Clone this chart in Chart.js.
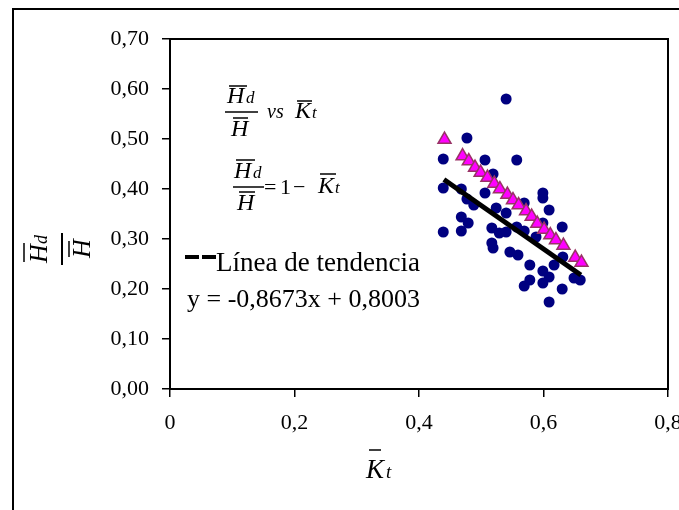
<!DOCTYPE html>
<html>
<head>
<meta charset="utf-8">
<script src="https://cdn.jsdelivr.net/npm/chart.js@4.4.1/dist/chart.umd.min.js"></script>
<style>
  body { margin: 0; background: #fff; }
  canvas { display: block; }
</style>
</head>
<body>
<canvas id="kt" width="679" height="510"></canvas>
<script>
// measured points (Kt, Hd/H)
const obsKt = [0.540, 0.477, 0.439, 0.506, 0.557, 0.519, 0.439, 0.468, 0.506, 0.599,
  0.599, 0.477, 0.488, 0.569, 0.524, 0.540, 0.609, 0.468, 0.479, 0.468,
  0.439, 0.517, 0.529, 0.540, 0.599, 0.630, 0.557, 0.569, 0.588, 0.517,
  0.519, 0.546, 0.559, 0.578, 0.617, 0.631, 0.599, 0.609, 0.578, 0.569,
  0.599, 0.649, 0.659, 0.630, 0.609];
const obsHd = [0.580, 0.502, 0.460, 0.458, 0.458, 0.430, 0.402, 0.400, 0.392, 0.392,
  0.382, 0.380, 0.368, 0.372, 0.362, 0.352, 0.358, 0.344, 0.332, 0.316,
  0.314, 0.322, 0.312, 0.314, 0.332, 0.324, 0.324, 0.316, 0.304, 0.292,
  0.282, 0.274, 0.268, 0.248, 0.248, 0.264, 0.236, 0.224, 0.218, 0.206,
  0.212, 0.222, 0.218, 0.200, 0.174];

// model values (triangles)
const modelKt = [0.441, 0.470, 0.480, 0.490, 0.499, 0.510, 0.521, 0.530, 0.542, 0.551,
  0.560, 0.572, 0.581, 0.590, 0.601, 0.611, 0.620, 0.632, 0.651, 0.661];
const modelHd = [0.499, 0.466, 0.456, 0.443, 0.433, 0.423, 0.411, 0.400, 0.389, 0.378,
  0.368, 0.356, 0.345, 0.331, 0.319, 0.308, 0.298, 0.287, 0.263, 0.253];

// trend line ends
const trendKt = [0.44, 0.66];
const trendHd = [0.419, 0.228];

const xTicks = [0, 0.2, 0.4, 0.6, 0.8];
const yTicks = [0, 0.1, 0.2, 0.3, 0.4, 0.5, 0.6, 0.7];

const legendText = "Línea de tendencia";
const eqText = "y = -0,8673x + 0,8003";

const SERIF = '"Liberation Serif", "Times New Roman", serif';

function pts(xs, ys) {
  return xs.map((x, i) => ({ x: x, y: ys[i] }));
}

function hline(ctx, x1, x2, y, w) {
  ctx.beginPath();
  ctx.lineWidth = w || 1.5;
  ctx.moveTo(x1, y);
  ctx.lineTo(x2, y);
  ctx.stroke();
}

const decor = {
  id: "decor",
  afterDraw(chart) {
    const ctx = chart.ctx;
    const a = chart.chartArea;
    ctx.save();
    ctx.strokeStyle = "#000";
    ctx.fillStyle = "#000";

    // outer frame
    ctx.lineWidth = 2;
    ctx.strokeRect(13, 9, 700, 600);
    // plot frame
    ctx.strokeRect(a.left, a.top, a.right - a.left, a.bottom - a.top);

    ctx.textBaseline = "alphabetic";
    ctx.textAlign = "left";

    // Hd/H vs Kt
    ctx.font = "italic 24px " + SERIF;
    ctx.fillText("H", 227, 103);
    ctx.fillText("H", 231, 136);
    ctx.fillText("K", 295, 118);
    ctx.font = "italic 17px " + SERIF;
    ctx.fillText("d", 246, 103);
    ctx.fillText("t", 312, 118);
    ctx.font = "italic 20px " + SERIF;
    ctx.fillText("vs", 267, 118);
    hline(ctx, 229, 247, 86);
    hline(ctx, 225, 258, 112);
    hline(ctx, 233, 248, 118);
    hline(ctx, 297, 312, 101);

    // Hd/H = 1 - Kt
    ctx.font = "italic 24px " + SERIF;
    ctx.fillText("H", 234, 178);
    ctx.fillText("H", 237, 210);
    ctx.fillText("K", 318, 193);
    ctx.font = "italic 17px " + SERIF;
    ctx.fillText("d", 253, 178);
    ctx.fillText("t", 335, 193);
    ctx.font = "22px " + SERIF;
    ctx.fillText("=", 264, 194);
    ctx.fillText("1", 280, 194);
    ctx.fillText("\u2212", 293, 194);
    hline(ctx, 236, 255, 160);
    hline(ctx, 233, 264, 187);
    hline(ctx, 239, 255, 192);
    hline(ctx, 320, 336, 174);

    // legend + equation
    ctx.fillRect(185, 255, 14, 4);
    ctx.fillRect(202, 255, 14, 4);
    ctx.font = "27px " + SERIF;
    ctx.fillText(legendText, 216, 271);
    ctx.font = "26px " + SERIF;
    ctx.fillText(eqText, 187, 307);

    // x title
    ctx.font = "italic 27px " + SERIF;
    ctx.fillText("K", 366, 478);
    ctx.font = "italic 19px " + SERIF;
    ctx.fillText("t", 386, 478);
    hline(ctx, 369, 381, 450);

    // y title, rotated: local x = -screenY, local y = screenX
    ctx.save();
    ctx.rotate(-Math.PI / 2);
    ctx.font = "italic 26px " + SERIF;
    ctx.fillText("H", -263, 47);
    ctx.fillText("H", -258, 90);
    ctx.font = "italic 18px " + SERIF;
    ctx.fillText("d", -244, 47);
    ctx.restore();
    ctx.lineWidth = 1.5;
    ctx.beginPath();
    ctx.moveTo(24, 262); ctx.lineTo(24, 243);
    ctx.moveTo(69, 257); ctx.lineTo(69, 241);
    ctx.stroke();
    ctx.lineWidth = 2;
    ctx.beginPath();
    ctx.moveTo(62, 233); ctx.lineTo(62, 265);
    ctx.stroke();

    ctx.restore();
  }
};

new Chart(document.getElementById("kt"), {
  type: "scatter",
  data: {
    datasets: [
      {
        label: "medidos",
        data: pts(obsKt, obsHd),
        pointStyle: "circle",
        pointRadius: 5.5,
        backgroundColor: "#000080",
        borderColor: "#000080",
        borderWidth: 0,
        order: 3
      },
      {
        label: legendText,
        type: "line",
        data: pts(trendKt, trendHd),
        borderColor: "#000",
        borderWidth: 5,
        pointRadius: 0,
        fill: false,
        order: 2
      },
      {
        label: "modelo",
        data: pts(modelKt, modelHd),
        pointStyle: "triangle",
        pointRadius: 7.5,
        backgroundColor: "#ff00ff",
        borderColor: "#993366",
        borderWidth: 1.5,
        order: 1
      }
    ]
  },
  options: {
    responsive: false,
    animation: false,
    events: [],
    layout: { padding: { top: 39, right: 11, left: 0, bottom: 0 } },
    plugins: {
      legend: { display: false },
      tooltip: { enabled: false }
    },
    scales: {
      x: {
        type: "linear",
        min: 0,
        max: 0.8,
        afterFit: s => { s.height = 121; s.paddingLeft = 0; s.paddingRight = 0; },
        afterBuildTicks: s => { s.ticks = xTicks.map(v => ({ value: v })); },
        ticks: {
          color: "#000",
          font: { family: SERIF, size: 22 },
          padding: 13,
          maxRotation: 0,
          callback: v => v === 0 ? "0" : v.toFixed(1).replace(".", ",")
        },
        grid: { drawOnChartArea: false, drawTicks: true, tickLength: 8, color: "#000", lineWidth: 1.5 },
        border: { display: false }
      },
      y: {
        type: "linear",
        min: 0,
        max: 0.7,
        afterFit: s => { s.width = 170; s.paddingTop = 0; s.paddingBottom = 0; },
        afterBuildTicks: s => { s.ticks = yTicks.map(v => ({ value: v })); },
        ticks: {
          color: "#000",
          font: { family: SERIF, size: 22 },
          padding: 13,
          callback: v => v.toFixed(2).replace(".", ",")
        },
        grid: { drawOnChartArea: false, drawTicks: true, tickLength: 8, color: "#000", lineWidth: 1.5 },
        border: { display: false }
      }
    }
  },
  plugins: [decor]
});
</script>
</body>
</html>
